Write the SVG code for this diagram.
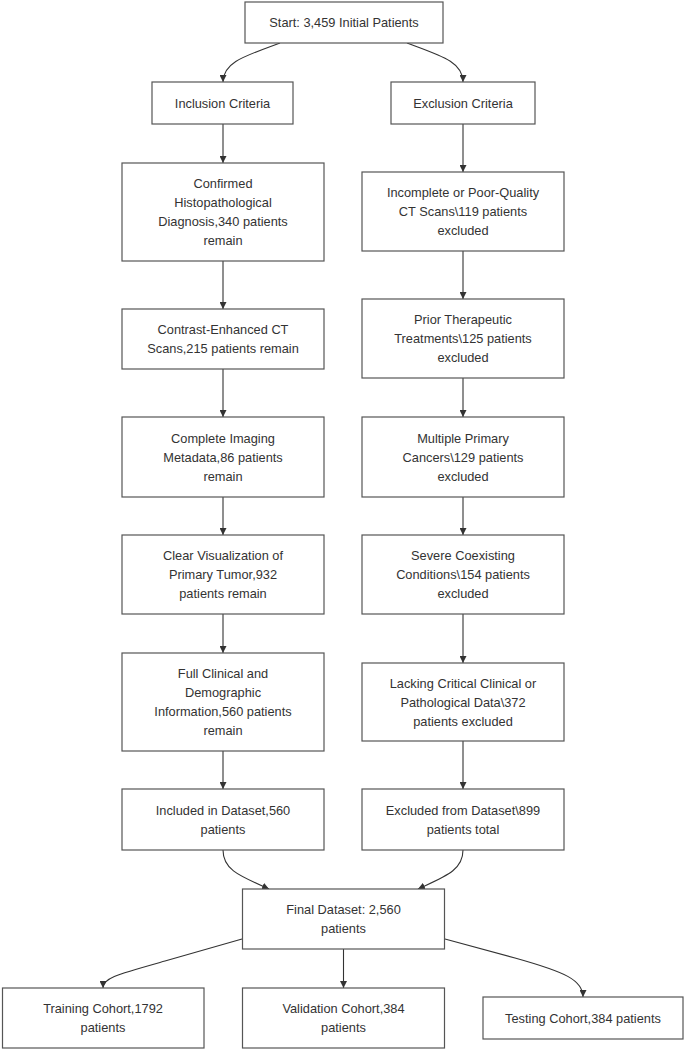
<svg xmlns="http://www.w3.org/2000/svg" width="685" height="1051" viewBox="0 0 685 1051">
<style>
.bg{fill:#ffffff}
.node rect{fill:#ffffff;stroke:#555555;stroke-width:1.2}
.node text{font-family:"Liberation Sans",Arial,sans-serif;font-size:12.8px;fill:#333333;text-anchor:middle}
.edges path{fill:none;stroke:#333333;stroke-width:1.1}
</style>
<defs>
<marker id="arr" viewBox="0 0 10 10" refX="10" refY="5" markerWidth="7" markerHeight="7" markerUnits="userSpaceOnUse" orient="auto">
<path d="M0,0 L10,5 L0,10 z" fill="#333333"/>
</marker>
</defs>
<rect class="bg" x="0" y="0" width="685" height="1051"/>
<g class="edges" marker-end="url(#arr)">
<path d="M280,43 C245,56 223,62 223,82" marker-end="url(#arr)"/>
<path d="M407,43 C442,56 463,62 463,82" marker-end="url(#arr)"/>
<path d="M223,124 L223,163" marker-end="url(#arr)"/>
<path d="M223,261 L223,309" marker-end="url(#arr)"/>
<path d="M223,369 L223,417" marker-end="url(#arr)"/>
<path d="M223,497 L223,535" marker-end="url(#arr)"/>
<path d="M223,614 L223,653" marker-end="url(#arr)"/>
<path d="M223,751 L223,789" marker-end="url(#arr)"/>
<path d="M463,124 L463,172" marker-end="url(#arr)"/>
<path d="M463,251 L463,299" marker-end="url(#arr)"/>
<path d="M463,378 L463,417" marker-end="url(#arr)"/>
<path d="M463,497 L463,535" marker-end="url(#arr)"/>
<path d="M463,614 L463,663" marker-end="url(#arr)"/>
<path d="M463,741 L463,789" marker-end="url(#arr)"/>
<path d="M223,850 C223,870 240,876 269,889" marker-end="url(#arr)"/>
<path d="M463,850 C463,870 446,876 418,889" marker-end="url(#arr)"/>
<path d="M242,939 L165,961 C115,975 103,978 103,988" marker-end="url(#arr)"/>
<path d="M343.5,949 L343.5,988" marker-end="url(#arr)"/>
<path d="M445,939 L515,958 C565,972 583,980 583,997" marker-end="url(#arr)"/>
</g>
<g id="start" class="node"><rect x="245" y="2" width="198" height="41"/><text x="344" y="27">Start: 3,459 Initial Patients</text></g>
<g id="inclusion" class="node"><rect x="152" y="82" width="141" height="42"/><text x="222.5" y="107.5">Inclusion Criteria</text></g>
<g id="exclusion" class="node"><rect x="391" y="82" width="144" height="42"/><text x="463" y="107.8">Exclusion Criteria</text></g>
<g id="confirmed" class="node"><rect x="122" y="163" width="202" height="98"/><text x="223" y="188">Confirmed</text><text x="223" y="207">Histopathological</text><text x="223" y="226">Diagnosis,340 patients</text><text x="223" y="245">remain</text></g>
<g id="incomplete" class="node"><rect x="362" y="172" width="202" height="79"/><text x="463" y="197">Incomplete or Poor-Quality</text><text x="463" y="216">CT Scans\119 patients</text><text x="463" y="235">excluded</text></g>
<g id="contrast" class="node"><rect x="122" y="309" width="202" height="60"/><text x="223" y="334">Contrast-Enhanced CT</text><text x="223" y="353">Scans,215 patients remain</text></g>
<g id="prior" class="node"><rect x="362" y="299" width="202" height="79"/><text x="463" y="324">Prior Therapeutic</text><text x="463" y="343">Treatments\125 patients</text><text x="463" y="362">excluded</text></g>
<g id="imaging" class="node"><rect x="122" y="417" width="202" height="80"/><text x="223" y="442.5">Complete Imaging</text><text x="223" y="461.5">Metadata,86 patients</text><text x="223" y="480.5">remain</text></g>
<g id="multiple" class="node"><rect x="362" y="417" width="202" height="80"/><text x="463" y="442.5">Multiple Primary</text><text x="463" y="461.5">Cancers\129 patients</text><text x="463" y="480.5">excluded</text></g>
<g id="clear" class="node"><rect x="122" y="535" width="202" height="79"/><text x="223" y="560">Clear Visualization of</text><text x="223" y="579">Primary Tumor,932</text><text x="223" y="598">patients remain</text></g>
<g id="severe" class="node"><rect x="362" y="535" width="202" height="79"/><text x="463" y="560">Severe Coexisting</text><text x="463" y="579">Conditions\154 patients</text><text x="463" y="598">excluded</text></g>
<g id="full" class="node"><rect x="122" y="653" width="202" height="98"/><text x="223" y="678">Full Clinical and</text><text x="223" y="697">Demographic</text><text x="223" y="716">Information,560 patients</text><text x="223" y="735">remain</text></g>
<g id="lacking" class="node"><rect x="362" y="663" width="202" height="78"/><text x="463" y="687.5">Lacking Critical Clinical or</text><text x="463" y="706.5">Pathological Data\372</text><text x="463" y="725.5">patients excluded</text></g>
<g id="included" class="node"><rect x="122" y="789" width="202" height="61"/><text x="223" y="814.5">Included in Dataset,560</text><text x="223" y="833.5">patients</text></g>
<g id="excluded" class="node"><rect x="362" y="789" width="202" height="61"/><text x="463" y="814.5">Excluded from Dataset\899</text><text x="463" y="833.5">patients total</text></g>
<g id="final" class="node"><rect x="242.5" y="889" width="202" height="60"/><text x="343.5" y="914">Final Dataset: 2,560</text><text x="343.5" y="933">patients</text></g>
<g id="training" class="node"><rect x="2.5" y="988" width="201.5" height="60"/><text x="103" y="1013">Training Cohort,1792</text><text x="103" y="1032">patients</text></g>
<g id="validation" class="node"><rect x="242.5" y="988" width="202" height="60"/><text x="343.5" y="1013">Validation Cohort,384</text><text x="343.5" y="1032">patients</text></g>
<g id="testing" class="node"><rect x="483" y="997" width="200" height="42"/><text x="583" y="1022.5">Testing Cohort,384 patients</text></g>
</svg>
